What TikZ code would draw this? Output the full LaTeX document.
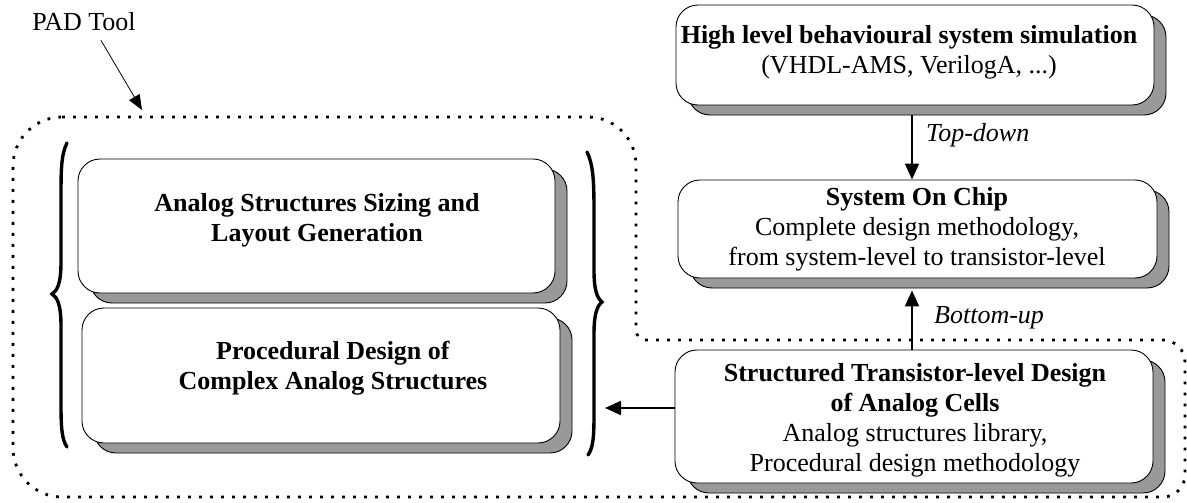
\documentclass[tikz,border=0pt]{standalone}
\usepackage{fontspec}
\setmainfont{Liberation Serif}
\usetikzlibrary{arrows.meta,shadows}
\begin{document}
\begin{tikzpicture}[x=1pt,y=-1pt,
  box/.style={draw=black, line width=0.9pt, fill=white, rounded corners=22pt, inner sep=0pt,
    general shadow={fill=black!40, draw=black, line width=0.9pt, shadow xshift=12pt, shadow yshift=-10pt}},
  txt/.style={align=center, inner sep=0pt, font=\fontsize{26}{30}\selectfont},
  lbl/.style={inner sep=0pt, font=\fontsize{26}{30}\selectfont\itshape, anchor=west},
  arr/.style={line width=2pt, -{Triangle[length=16pt,width=14pt]}},
  padarr/.style={line width=0.8pt, -{Triangle[length=15pt,width=12pt]}},
  dotline/.style={line width=2.8pt, dash pattern=on 2.8pt off 8.2pt},
  brace/.style={line width=3.4pt, line cap=round}]
\useasboundingbox (0,0) rectangle (1187,503);

% dotted PAD tool outline
\draw[dotline] (62,117) -- (588,117) .. controls (614.5,117) and (636,138.5) .. (636,165)
  -- (636,330) .. controls (636,335.5) and (640.5,340) .. (646,340)
  -- (1163,340) .. controls (1175,340) and (1185,350) .. (1185,362)
  -- (1185,475) .. controls (1185,487) and (1175,497) .. (1163,497)
  -- (62,497) .. controls (35,497) and (13,475) .. (13,448)
  -- (13,166) .. controls (13,139) and (35,117) .. (62,117);

% PAD Tool label and arrow
\node[txt] (pad) at (84,22) {PAD Tool};
\coordinate (padtip) at (142,110);
\draw[padarr] ([shift={(17pt,-9pt)}]pad.south) -- (padtip);

% boxes
\node[box, minimum width=478pt, minimum height=100pt] (hl) at (915,55) {};
\node[txt] (hlt) at (909,52.5) {\textbf{High level behavioural system simulation}\\(VHDL-AMS, VerilogA, ...)};

\node[box, minimum width=479pt, minimum height=98pt] (soc) at (917.5,229) {};
\node[txt] (soct) at (917,229) {\textbf{System On Chip}\\Complete design methodology,\\from system-level to transistor-level};

\node[box, minimum width=478pt, minimum height=133pt] (std) at (914,416.5) {};
\node[txt] (stdt) at (915,420) {\textbf{Structured Transistor-level Design}\\\textbf{of Analog Cells}\\Analog structures library,\\Procedural design methodology};

\node[box, minimum width=477pt, minimum height=134pt] (asl) at (316.5,226) {};
\node[txt] (aslt) at (317,220) {\textbf{Analog Structures Sizing and}\\\textbf{Layout Generation}};

\node[box, minimum width=478pt, minimum height=135pt] (pd) at (321,375.5) {};
\node[txt] (pdt) at (333,368) {\textbf{Procedural Design of}\\\textbf{Complex Analog Structures}};

% braces
\draw[brace] (67,143) .. controls (61,155) and (61,170) .. (61,200) -- (61,262)
  .. controls (61,284) and (57,291) .. (52,294) .. controls (57,297) and (61,304) .. (61,326)
  -- (61,405) .. controls (61,428) and (62,440) .. (67,447);
\draw[brace] (587,152) .. controls (593,164) and (594,180) .. (594,210) -- (594,270)
  .. controls (594,290) and (597,298) .. (602,302) .. controls (597,306) and (594,314) .. (594,334)
  -- (594,415) .. controls (594,438) and (593,448) .. (588,455);

% arrows
\draw[arr] ([xshift=-3pt,yshift=-10pt]hl.south) -- ([xshift=-3pt]hl.south |- soc.north);
\node[lbl] (td) at (926,135) {Top-down};
\draw[arr] ([xshift=-2pt]std.north) -- ([xshift=-2pt,yshift=-12pt]std.north |- soc.south);
\node[lbl] (bu) at (934,318) {Bottom-up};
\coordinate (lefttip) at (605,408);
\draw[arr] (std.west |- lefttip) -- (lefttip);
\end{tikzpicture}
\end{document}
